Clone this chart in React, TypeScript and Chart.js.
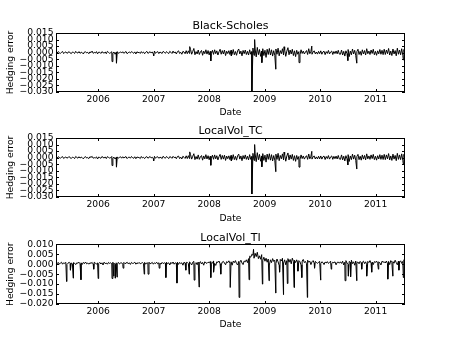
import React, { useEffect, useRef } from "react";
import { Chart, registerables } from "chart.js";

Chart.register(...registerables);

// ---------- data ----------
const START_YEAR = 2005.24;
const END_YEAR = 2011.53;
const UNIT = 1e-4; // series values below are in units of 0.0001

const YEAR_TICKS = [2006, 2007, 2008, 2009, 2010, 2011];
const Y_TICKS_WIDE = [-0.03, -0.025, -0.02, -0.015, -0.01, -0.005, 0, 0.005, 0.01, 0.015];
const Y_TICKS_NARROW = [-0.02, -0.015, -0.01, -0.005, 0, 0.005, 0.01];

const TITLES = ["Black-Scholes", "LocalVol_TC", "LocalVol_TI"];

const BS_NOISE = [
  5, -3, 8, 0, -6, 3, 9, -7, 2, 6, -5, 1, 8, -3, -7, 5, 2, -6, 10, 0,
  -3, 8, -5, 3, 0, -10, 5, 7, -2, 3, -8, 6, 0, 12, -5, 2, -3, 8, -9, 4,
  3, -6, 8, 0, -3, 5, -8, 10, 2, -5, 0, 7, -3, 5, -12, 3, 8, -5, 0, 6,
  -3, 7, -5, 2, 9, -8, 0, 5, -3, 8, 2, -5, 6, -10, 7, 0, 3, -6, 8, -3,
  5, -8, 3, 10, -5, 0, 8, -3, 6, -10, 12, -5, 3, 8, -7, 5, 0, -6, 10, 3,
  -5, 8, 0, -7, 10, 3, -6, 12, -3, 6, -10, 8, 14, -6, 3, -12, 10, 5, -8, 15,
  -8, 14, -6, 24, -12, 10, 32, -16, 8, -10, 20, -14, 6, 17, -20, 12, -8, 22, -11, 16,
  -17, 10, -6, 18, -13, 22, -8, 14, -18, 7, 26, -12, 16, -10, 20, -22, 11, -7, 15, -14,
  18, -11, 24, -16, 9, -20, 14, 28, -10, 12, -24, 17, -8, 20, -14, 10, -18, 22, -12, 8,
  35, -20, 28, -32, 40, -15, 24, -28, 12, 30, -22, 18, -36, 26, -14, 32, -18, 22, -26, 15,
  -20, 28, -12, 34, -24, 16, -8, 30, -18, 22, -28, 12, 38, -16, 20, -10, 26, -22, 14, -30,
  18, -12, 8, -16, 22, -6, 12, -10, 4, 16, -14, 30, -8, 10, -12, 6, 14, -9, 5, -11,
  10, -8, 14, -12, 6, 11, -15, 8, -6, 17, -10, 5, 12, -14, 9, -7, 13, -9, 18, -11,
  -12, 20, -18, 10, -26, 14, -8, 24, -30, 12, -16, 28, -10, 18, -22, 8, 26, -14, 10, -20,
  22, -10, 16, -18, 30, -8, 12, -14, 20, -6, 26, -16, 10, -20, 14, -9, 24, -12, 18, -15,
  26, -14, 20, -8, 32, -18, 12, -22, 28, -10, 16, -24, 34, -12, 20, -16, 30, -20, 24, -28,
];
const BS_SPIKES: [number, number][] = [
  [2006.25, -68], [2006.33, -80], [2007.0, -25], [2007.65, 46], [2008.03, -63],
  [2008.4, -25], [2008.77, -320], [2008.82, 100], [2008.95, -76], [2009.2, -126],
  [2009.35, 45], [2009.62, -76], [2009.85, 50], [2010.5, -60], [2010.66, -80], [2011.5, -55],
];

const TC_NOISE = [
  4, -4, 7, 2, -5, 4, 8, -6, 1, 5, -3, 0, 9, -2, -6, 4, 1, -7, 9, 2,
  -4, 7, -3, 4, 0, -9, 3, 8, -3, 1, -7, 7, 2, 10, -4, 0, -2, 6, -10, 5,
  1, -5, 9, 2, -3, 6, -7, 8, 2, -3, 0, 9, -4, 4, -10, 2, 6, -4, 2, 7,
  -4, 7, -3, 4, 8, -7, 2, 5, -4, 9, 0, -5, 7, -8, 5, 2, 1, -7, 9, -2,
  3, -7, 4, 8, -4, 2, 9, -2, 3, -8, 10, -4, 4, 7, -5, 3, 1, -7, 11, 0,
  -4, 9, 2, -7, 8, 4, -5, 10, 0, 5, -8, 9, 12, -7, 4, -10, 11, 3, -6, 14,
  -7, 15, -7, 23, -11, 11, 30, -15, 9, -11, 21, -13, 7, 16, -19, 13, -9, 23, -10, 15,
  -16, 11, -7, 19, -12, 21, -9, 15, -17, 8, 25, -13, 17, -11, 19, -21, 12, -8, 14, -15,
  17, -12, 23, -15, 10, -19, 15, 27, -11, 13, -23, 16, -9, 21, -13, 11, -17, 23, -13, 9,
  33, -21, 29, -30, 38, -16, 25, -27, 13, 31, -21, 19, -34, 27, -13, 30, -19, 23, -25, 16,
  -19, 27, -13, 33, -23, 17, -9, 29, -17, 23, -27, 13, 36, -17, 21, -11, 25, -21, 15, -28,
  17, -13, 9, -15, 21, -7, 13, -11, 5, 15, -13, 28, -9, 11, -11, 7, 13, -10, 6, -10,
  11, -9, 13, -11, 7, 12, -14, 9, -7, 16, -11, 6, 13, -13, 10, -8, 12, -10, 17, -10,
  -13, 21, -17, 11, -25, 15, -9, 23, -29, 13, -15, 27, -11, 19, -21, 9, 25, -15, 11, -19,
  21, -11, 17, -17, 29, -9, 13, -13, 21, -7, 25, -15, 11, -19, 15, -10, 23, -13, 19, -14,
  25, -15, 21, -9, 31, -17, 13, -21, 27, -11, 17, -23, 33, -13, 21, -15, 29, -21, 25, -26,
];
const TC_SPIKES: [number, number][] = [
  [2006.25, -60], [2006.33, -72], [2007.0, -25], [2007.65, 44], [2008.03, -58],
  [2008.4, -25], [2008.77, -277], [2008.82, 100], [2008.95, -70], [2009.2, -107],
  [2009.35, 42], [2009.62, -72], [2009.85, 48], [2010.5, -55], [2010.66, -86], [2011.5, -50],
];

const TI_NOISE = [
  7, 2, 9, 1, 5, 10, 0, 7, 4, 9, -1, 5, 10, 3, 7, 1, 8, 5, -2, 7,
  5, 10, 2, 7, -1, 9, 3, 11, 2, 6, 0, 7, 4, 9, 1, 10, 5, 0, 7, 3,
  9, 1, 7, -4, 10, 3, 6, 0, 9, 4, 7, 2, 10, 5, -1, 7, 3, 9, 1, 6,
  7, 0, 9, 3, 5, 10, 2, 7, -1, 9, 4, 5, 10, 0, 7, 3, 9, 2, 5, 8,
  3, 9, 0, 7, 5, 10, 2, 5, 9, 0, 7, 3, 10, 2, 7, 5, 0, 9, 3, 7,
  5, 10, 2, 7, -4, 9, 3, 11, 0, 7, 5, 10, -1, 9, 3, 7, -5, 10, 5, 9,
  9, 3, 12, 5, -4, 10, 14, 2, 8, -3, 11, 6, 13, 1, 9, -5, 12, 7, 4, 10,
  8, 13, -2, 10, 15, 4, -6, 12, 9, 16, 2, -4, 11, 14, 6, -3, 13, 8, 17, 5,
  12, -5, 15, 8, 18, 3, -4, 14, 10, 20, 6, -2, 16, 12, 22, 8, 28, 40, 35, 50,
  45, 30, 55, 38, 60, 28, 42, 25, 48, 20, 35, 15, 30, 10, 26, -4, 22, 8, 28, 14,
  20, 4, 26, 12, -6, 24, 16, 30, 6, 22, -3, 18, 28, 10, 24, 2, 30, 14, 20, 8,
  22, 6, 18, 12, -4, 16, 24, 8, 14, 2, 20, 10, 15, -2, 12, 18, 6, 14, 9, 4,
  10, 14, 3, 12, 8, -2, 11, 6, 13, 4, 9, 15, 2, 10, 7, 12, -3, 9, 11, 5,
  12, 4, 15, -4, 10, 18, 6, -2, 14, 9, 20, 3, 12, -5, 16, 8, 11, 2, 14, 7,
  10, 15, 3, 12, -3, 14, 8, 18, 5, 11, -2, 13, 9, 16, 4, 12, 7, -4, 15, 10,
  12, 6, 16, 3, 14, -2, 18, 9, 13, 5, 20, 8, -3, 15, 11, 17, 4, 14, 22, 9,
];
const TI_SPIKES: [number, number][] = [
  [2005.43, -87], [2005.5, -30], [2005.55, -70], [2005.69, -78], [2005.92, -25],
  [2006.0, -72], [2006.25, -72], [2006.28, -60], [2006.31, -70], [2006.34, -65],
  [2006.45, -20], [2006.83, -50], [2006.9, -50], [2007.1, -20], [2007.22, -67],
  [2007.42, -95], [2007.58, -30], [2007.64, -50], [2007.73, -80], [2007.82, -115],
  [2008.03, -67], [2008.08, -40], [2008.21, -50], [2008.38, -117], [2008.54, -167],
  [2008.72, -78], [2008.8, 75], [2008.96, -100], [2009.08, -83], [2009.2, -145],
  [2009.27, -40], [2009.34, -153], [2009.41, -97], [2009.53, -117], [2009.6, -35],
  [2009.67, -67], [2009.77, -167], [2009.9, -20], [2010.01, -80], [2010.2, -25],
  [2010.45, -83], [2010.51, -60], [2010.55, -63], [2010.66, -83], [2010.75, -25],
  [2010.84, -60], [2010.93, -40], [2011.05, -25], [2011.22, -75], [2011.31, -60],
  [2011.42, -30], [2011.5, -67],
];

// ---------- helpers ----------
function buildPoints(noise: number[], spikes: [number, number][]) {
  const step = (END_YEAR - START_YEAR) / (noise.length - 1);
  const pts = noise.map((v, i) => ({ x: START_YEAR + i * step, y: v * UNIT }));
  spikes.forEach(([x, v]) => pts.push({ x, y: v * UNIT }));
  pts.sort((a, b) => a.x - b.x);
  return pts;
}

function fmtY(v: number) {
  const r = Math.round(v * 1000) / 1000;
  if (Math.abs(r) < 1e-9) return "0.000";
  return (r < 0 ? "\u2212" : "") + Math.abs(r).toFixed(3);
}

const FONT = "'DejaVu Sans', sans-serif";
const TICK_FONT = 9.2;
const TICK_LEN = 3;

const frameAndTicks = {
  id: "frameAndTicks",
  afterDatasetsDraw(chart: any) {
    const { ctx, chartArea: a, scales } = chart;
    const x = scales.x;
    const y = scales.y;
    ctx.save();
    ctx.strokeStyle = "#000";
    ctx.lineWidth = 1;
    ctx.beginPath();
    x.ticks.forEach((t: any) => {
      const px = Math.round(x.getPixelForValue(t.value)) + 0.5;
      ctx.moveTo(px, a.top);
      ctx.lineTo(px, a.top + TICK_LEN);
      ctx.moveTo(px, a.bottom);
      ctx.lineTo(px, a.bottom - TICK_LEN);
    });
    y.ticks.forEach((t: any) => {
      const py = Math.round(y.getPixelForValue(t.value)) + 0.5;
      ctx.moveTo(a.left, py);
      ctx.lineTo(a.left + TICK_LEN, py);
      ctx.moveTo(a.right, py);
      ctx.lineTo(a.right - TICK_LEN, py);
    });
    ctx.stroke();
    ctx.strokeRect(
      Math.round(a.left) + 0.5,
      Math.round(a.top) + 0.5,
      Math.round(a.right) - Math.round(a.left) - 1,
      Math.round(a.bottom) - Math.round(a.top) - 1
    );
    ctx.restore();
  },
};

type PanelProps = {
  title: string;
  points: { x: number; y: number }[];
  yTicks: number[];
  top: number;
  height: number;
  padTop: number;
  padBottom: number;
  xHeight: number;
};

function Panel({ title, points, yTicks, top, height, padTop, padBottom, xHeight }: PanelProps) {
  const ref = useRef<HTMLCanvasElement>(null);
  useEffect(() => {
    if (!ref.current) return;
    const chart = new Chart(ref.current, {
      type: "line",
      data: {
        datasets: [
          {
            data: points,
            borderColor: "#000",
            borderWidth: 1,
            pointRadius: 0,
            tension: 0,
            fill: false,
          },
        ],
      },
      options: {
        animation: false,
        responsive: false,
        devicePixelRatio: 1,
        events: [],
        layout: { padding: { top: padTop, bottom: padBottom, left: 5.5, right: 45 } },
        plugins: {
          legend: { display: false },
          tooltip: { enabled: false },
          title: {
            display: true,
            fullSize: false,
            text: title,
            color: "#000",
            font: { family: FONT, size: 11, weight: "normal" },
            padding: 0,
          },
        },
        scales: {
          x: {
            type: "linear",
            min: START_YEAR,
            max: END_YEAR,
            grid: { display: false, drawTicks: false },
            border: { display: false },
            afterBuildTicks: (s: any) => {
              s.ticks = YEAR_TICKS.map((v) => ({ value: v }));
            },
            afterFit: (s: any) => {
              s.height = xHeight;
            },
            ticks: {
              color: "#000",
              font: { family: FONT, size: TICK_FONT },
              padding: 2.5,
              autoSkip: false,
              maxRotation: 0,
              callback: (v: any) => String(v),
            },
            title: {
              display: true,
              text: "Date",
              color: "#000",
              font: { family: FONT, size: TICK_FONT },
              padding: 0,
            },
          },
          y: {
            type: "linear",
            min: yTicks[0],
            max: yTicks[yTicks.length - 1],
            grid: { display: false, drawTicks: false },
            border: { display: false },
            afterBuildTicks: (s: any) => {
              s.ticks = yTicks.map((v) => ({ value: v }));
            },
            afterFit: (s: any) => {
              s.width = 50.5;
            },
            ticks: {
              color: "#000",
              font: { family: FONT, size: TICK_FONT },
              padding: 2.5,
              autoSkip: false,
              callback: (v: any) => fmtY(Number(v)),
            },
            title: {
              display: true,
              text: "Hedging error",
              color: "#000",
              font: { family: FONT, size: TICK_FONT },
              padding: 0,
            },
          },
        },
      } as any,
      plugins: [frameAndTicks],
    });
    return () => chart.destroy();
  }, []);
  return (
    <canvas
      ref={ref}
      width={450}
      height={height}
      style={{ position: "absolute", left: 0, top, width: 450, height, display: "block" }}
    />
  );
}

export default function App() {
  const bs = buildPoints(BS_NOISE, BS_SPIKES);
  const tc = buildPoints(TC_NOISE, TC_SPIKES);
  const ti = buildPoints(TI_NOISE, TI_SPIKES);
  return (
    <div style={{ position: "absolute", left: 0, top: 0, width: 450, height: 338, background: "#fff" }}>
      <Panel title={TITLES[0]} points={bs} yTicks={Y_TICKS_WIDE} top={0} height={118} padTop={19.8} padBottom={0} xHeight={26} />
      <Panel title={TITLES[1]} points={tc} yTicks={Y_TICKS_WIDE} top={118} height={106} padTop={6.8} padBottom={0} xHeight={27} />
      <Panel title={TITLES[2]} points={ti} yTicks={Y_TICKS_NARROW} top={224} height={114} padTop={7.1} padBottom={8} xHeight={26} />
    </div>
  );
}
